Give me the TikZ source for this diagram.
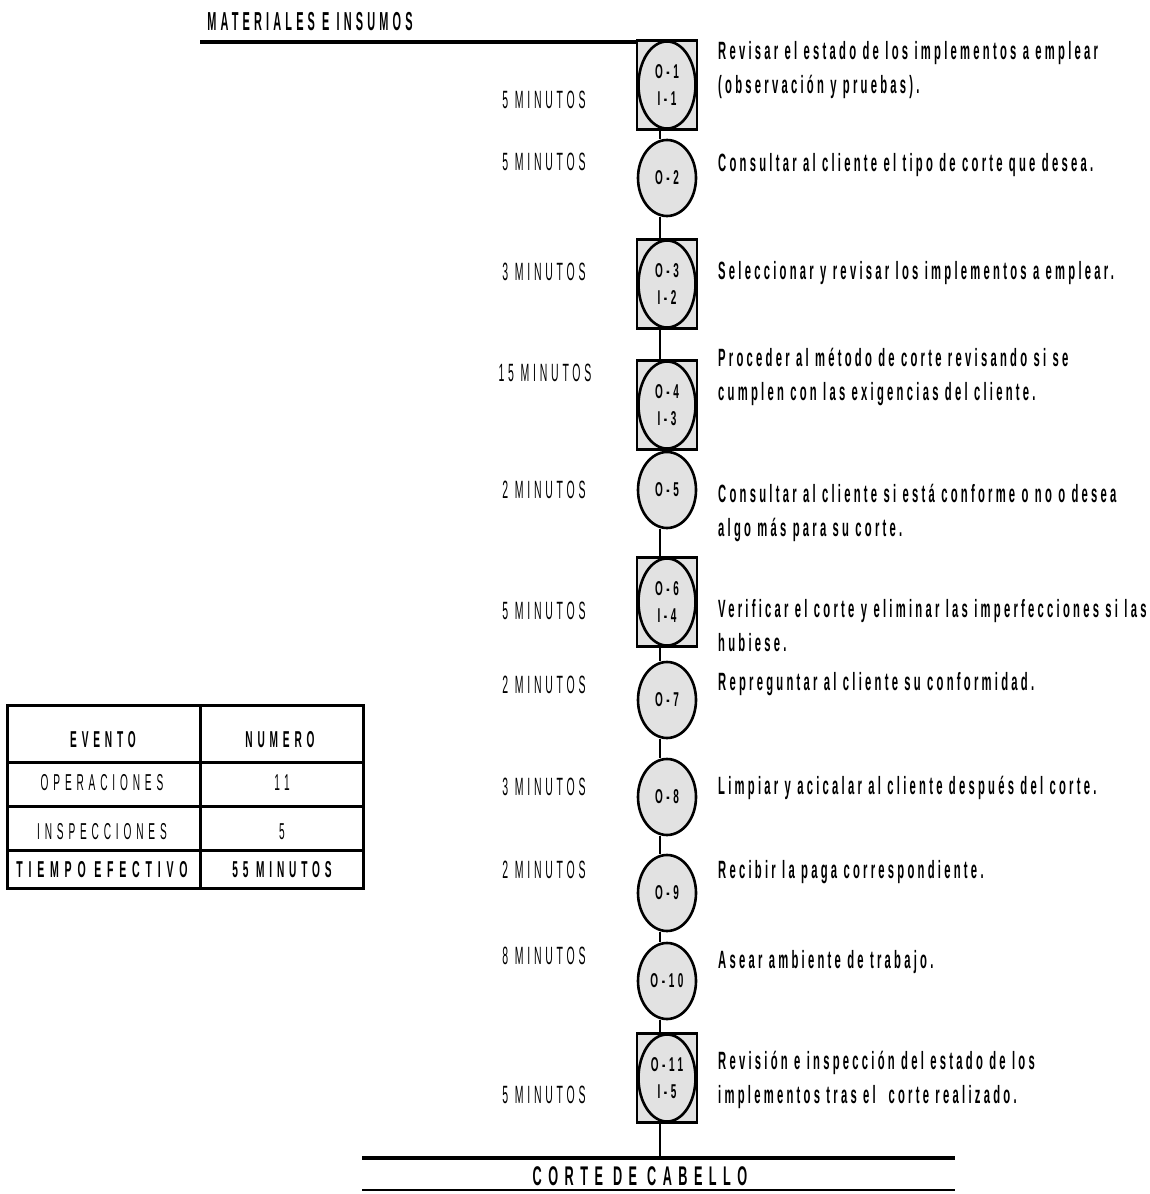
\documentclass[tikz,border=0pt]{standalone}
\usepackage{fontspec}
\setmainfont{Liberation Sans}
% condensed, letter-spaced faces
\newfontfamily\minfont{Liberation Sans}[FakeStretch=0.42,LetterSpace=15]
\newfontfamily\descfont{Liberation Sans}[FakeStretch=0.45,LetterSpace=13]
\newfontfamily\tagfont{Liberation Sans}[FakeStretch=0.5,LetterSpace=18]
\newfontfamily\headfont{Liberation Sans}[FakeStretch=0.42,LetterSpace=16]
\newfontfamily\footfont{Liberation Sans}[FakeStretch=0.47,LetterSpace=24]
\newfontfamily\tabfont{Liberation Sans}[FakeStretch=0.44,LetterSpace=21]
\newfontfamily\tabwidefont{Liberation Sans}[FakeStretch=0.46,LetterSpace=25]
\usetikzlibrary{shapes.geometric}
\definecolor{shade}{HTML}{E2E2E2}

\tikzset{
  mins/.style={inner sep=0pt, font=\minfont\fontsize{25}{28}\selectfont},
  desc/.style={anchor=west, align=left, inner sep=0pt,
    font=\descfont\bfseries\fontsize{25}{34}\selectfont},
  op/.style={ellipse, draw, line width=2.6pt, fill=shade, inner sep=0pt,
    minimum width=58pt, minimum height=76pt, align=center,
    font=\tagfont\bfseries\fontsize{20}{27}\selectfont},
  opin/.style={op, minimum width=57pt, minimum height=87pt},
  insp/.style={rectangle, draw, line width=1.2pt, fill=shade, inner sep=0pt,
    minimum width=60pt, minimum height=88pt},
  link/.style={line width=2pt},
  cell/.style={inner sep=0pt, font=\tabfont\fontsize{23}{26}\selectfont},
  cellb/.style={cell, font=\tabfont\bfseries\fontsize{23}{26}\selectfont},
}

\begin{document}
\begin{tikzpicture}[x=1pt,y=-1pt]
\useasboundingbox (0,0) rectangle (1150,1194);

% header and upper bar
\node[inner sep=0pt, font=\headfont\bfseries\fontsize{26}{30}\selectfont] (head) at (310,22) {MATERIALES E INSUMOS};
\coordinate (spine) at (660,0);
\coordinate (topL) at (200,42);
\coordinate (topR) at (660,42);
\draw[line width=4pt] (topL) -- (topR);

% process symbols
\node[insp] (s1) at (667,85) {};
\node[opin] (e1) at (s1) {O-1\\I-1};
\node[op] (c2) at (667,178) {O-2};
\node[insp] (s3) at (667,284) {};
\node[opin] (e3) at (s3) {O-3\\I-2};
\node[insp] (s4) at (667,405) {};
\node[opin] (e4) at (s4) {O-4\\I-3};
\node[op] (c5) at (667,490) {O-5};
\node[insp] (s6) at (667,602) {};
\node[opin] (e6) at (s6) {O-6\\I-4};
\node[op] (c7) at (667,700) {O-7};
\node[op] (c8) at (667,797) {O-8};
\node[op] (c9) at (667,893) {O-9};
\node[op] (c10) at (667,981) {O-10};
\node[insp] (s11) at (667,1078) {};
\node[opin] (e11) at (s11) {O-11\\I-5};

% heavier top and bottom edges of the combined symbols
\foreach \s in {s1,s3,s4,s6,s11}
  \draw[line width=3pt] (\s.north west) -- (\s.north east)
                        (\s.south west) -- (\s.south east);

% flow line
\draw[link] (s1.south -| spine) -- (c2.north -| spine);
\draw[link] (c2.south -| spine) -- (s3.north -| spine);
\draw[link] (s3.south -| spine) -- (s4.north -| spine);
\draw[link] (s4.south -| spine) -- (c5.north -| spine);
\draw[link] (c5.south -| spine) -- (s6.north -| spine);
\draw[link] (s6.south -| spine) -- (c7.north -| spine);
\draw[link] (c7.south -| spine) -- (c8.north -| spine);
\draw[link] (c8.south -| spine) -- (c9.north -| spine);
\draw[link] (c9.south -| spine) -- (c10.north -| spine);
\draw[link] (c10.south -| spine) -- (s11.north -| spine);

% lower bar and title
\coordinate (botL) at (362,1158);
\coordinate (botR) at (955,1158);
\draw[line width=4pt] (botL) -- (botR);
\draw[link] (s11.south -| spine) -- (botL -| spine);
\node[inner sep=0pt, font=\footfont\bfseries\fontsize{27}{30}\selectfont] (foot) at (640,1176) {CORTE DE CABELLO};
\coordinate (ruleL) at (362,1190);
\coordinate (ruleR) at (955,1190);
\draw[line width=1.8pt] (ruleL) -- (ruleR);

% durations
\node[mins] (t1) at (544,100) {5 MINUTOS};
\node[mins] (t2) at (544,162) {5 MINUTOS};
\node[mins] (t3) at (544,272) {3 MINUTOS};
\node[mins] (t4) at (545,373) {15 MINUTOS};
\node[mins] (t5) at (544,490) {2 MINUTOS};
\node[mins] (t6) at (544,611) {5 MINUTOS};
\node[mins] (t7) at (544,685) {2 MINUTOS};
\node[mins] (t8) at (544,787) {3 MINUTOS};
\node[mins] (t9) at (544,870) {2 MINUTOS};
\node[mins] (t10) at (544,956) {8 MINUTOS};
\node[mins] (t11) at (544,1095) {5 MINUTOS};

% descriptions
\node[desc] (d1) at (718,70.5) {Revisar el estado de los implementos a emplear\\(observación y pruebas).};
\node[desc] (d2) at (718,165) {Consultar al cliente el tipo de corte que desea.};
\node[desc] (d3) at (718,273) {Seleccionar y revisar los implementos a emplear.};
\node[desc] (d4) at (718,376.5) {Proceder al método de corte revisando si se\\cumplen con las exigencias del cliente.};
\node[desc] (d5) at (718,512.5) {Consultar al cliente si está conforme o no o desea\\algo más para su corte.};
\node[desc] (d6) at (718,625.5) {Verificar el corte y eliminar las imperfecciones si las\\hubiese.};
\node[desc] (d7) at (718,684) {Repreguntar al cliente su conformidad.};
\node[desc] (d8) at (718,788) {Limpiar y acicalar al cliente después del corte.};
\node[desc] (d9) at (718,872) {Recibir la paga correspondiente.};
\node[desc] (d10) at (718,962) {Asear ambiente de trabajo.};
\node[desc] (d11) at (718,1079.5) {Revisión e inspección del estado de los\\implementos tras el~ corte realizado.};

% summary table
\draw[line width=3pt] (7,705) rectangle (363,888);
\draw[line width=3pt] (200,705) -- (200,888);
\draw[line width=3pt] (7,762) -- (363,762);
\draw[line width=3pt] (7,806) -- (363,806);
\draw[line width=3pt] (7,850) -- (363,850);
\node[cellb] (h1) at (103,740) {EVENTO};
\node[cellb] (h2) at (280,740) {NUMERO};
\node[cell] (r1a) at (102,783) {OPERACIONES};
\node[cell] (r1b) at (282,783) {11};
\node[cell] (r2a) at (102,832) {INSPECCIONES};
\node[cell] (r2b) at (282,832) {5};
\node[cellb, font=\tabwidefont\bfseries\fontsize{23}{26}\selectfont] (r3a) at (102,870) {TIEMPO EFECTIVO};
\node[cellb] (r3b) at (282,870) {55 MINUTOS};
\end{tikzpicture}
\end{document}
